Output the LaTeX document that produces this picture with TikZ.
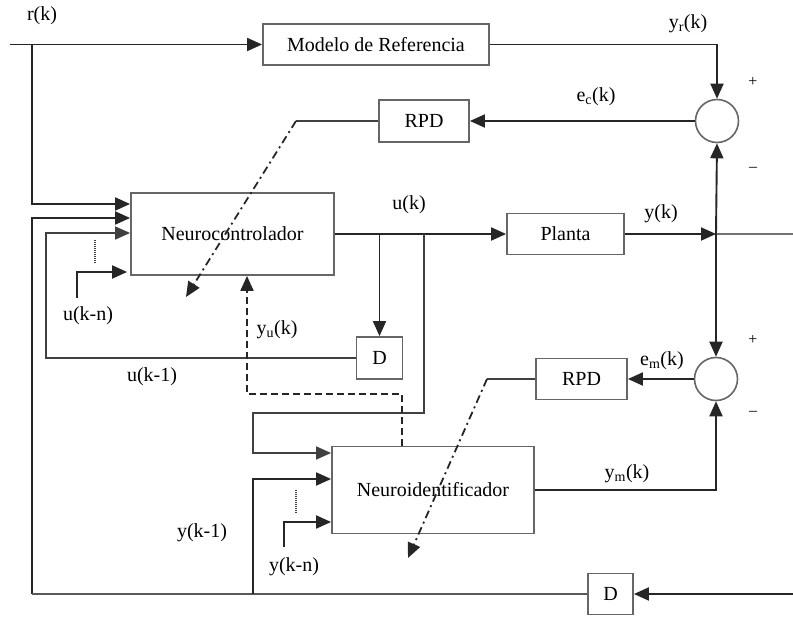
\documentclass[tikz,border=0pt]{standalone}
\usepackage{fontspec}
\setmainfont{Liberation Serif}
\usetikzlibrary{arrows.meta}
\begin{document}
\begin{tikzpicture}[x=1pt,y=-1pt,
  conn/.style={draw=black!85,line width=1.9pt},
  thin/.style={draw=black!75,line width=1.5pt},
  tip/.style={-{Triangle[length=15pt,width=13pt]}},
  box/.style={draw=black!60,line width=1.8pt,inner sep=0pt,font=\fontsize{20}{23}\selectfont},
  sumn/.style={draw=black!60,line width=1.6pt,circle,minimum size=43pt,inner sep=0pt},
  lbl/.style={inner sep=0pt,font=\fontsize{20}{23}\selectfont},
  sgn/.style={inner sep=0pt,font=\fontsize{16}{18}\selectfont},
  dashdotline/.style={draw=black!85,line width=1.8pt,dash pattern=on 8pt off 4pt on 2pt off 4pt},
  dashline/.style={draw=black!85,line width=1.8pt,dash pattern=on 7pt off 4pt},
  dotline/.style={draw=black!75,line width=1.6pt,dash pattern=on 1pt off 1pt}]
\useasboundingbox (0,0) rectangle (793,617);

% blocks
\node[box,minimum width=226pt,minimum height=41pt] (mr) at (376,44.5) {Modelo de Referencia};
\node[box,minimum width=90pt,minimum height=42pt] (rpd1) at (424,121) {RPD};
\node[box,minimum width=203pt,minimum height=82pt] (nc) at (232.5,234) {Neurocontrolador};
\node[box,minimum width=117pt,minimum height=41pt] (planta) at (565.5,234) {Planta};
\node[box,minimum width=46pt,minimum height=42pt] (d1) at (379.5,358) {D};
\node[box,minimum width=91pt,minimum height=41pt] (rpd2) at (581.5,379) {RPD};
\node[box,minimum width=202pt,minimum height=87pt] (ni) at (433,490) {Neuroidentificador};
\node[box,minimum width=45pt,minimum height=41pt] (d2) at (610.5,594) {D};
\node[sumn] (s1) at (717,121) {};
\node[sumn] (s2) at (716,379) {};

% coordinates
\coordinate (rin) at (10,44.5);
\coordinate (rj) at (32,44.5);
\coordinate (a1) at (32,204);
\coordinate (a2) at (32,218);
\coordinate (bl) at (32,594);
\coordinate (a3) at (46,233);
\coordinate (a4) at (77,298);
\coordinate (a4b) at (77,272);
\coordinate (dt1) at (95,240);
\coordinate (dt2) at (95,263);
\coordinate (b1) at (379.5,234);
\coordinate (b2) at (424,234);
\coordinate (b3) at (424,413);
\coordinate (b4) at (253,413);
\coordinate (b5) at (253,453);
\coordinate (yj) at (716,234);
\coordinate (yout) at (793,234);
\coordinate (c1) at (296,121);
\coordinate (c2) at (186,297);
\coordinate (e1) at (402,394);
\coordinate (e2) at (247,394);
\coordinate (f1) at (487,379);
\coordinate (f2) at (408,558);
\coordinate (m1) at (716,490);
\coordinate (g1) at (253,594);
\coordinate (g2) at (253,479);
\coordinate (dt3) at (296,490);
\coordinate (dt4) at (296,513);
\coordinate (h1) at (284,547);
\coordinate (h2) at (284,522);
\coordinate (din) at (793,594);

% reference path
\draw[conn,tip] (rin) -- (mr);
\draw[conn,tip] (rj) -- (a1) -- (a1 -| nc.west);
\draw[conn,tip] (mr.east) -- (mr.east -| s1) -- (s1.north);
\draw[conn,tip] (s1.west) -- (rpd1.east);
\draw[thin] (rpd1.west) -- (c1);
\draw[dashdotline,tip] (c1) -- (c2);

% controller inputs
\draw[conn,tip] (bl) -- (a2) -- (a2 -| nc.west);
\draw[thin,tip] (d1.west) -- (d1.west -| a3) -- (a3) -- (a3 -| nc.west);
\draw[dotline] (dt1) -- (dt2);
\draw[conn,tip,shorten >=3pt] (a4) -- (a4b) -- (a4b -| nc.west);

% controller output
\draw[conn,tip] (nc.east) -- (planta.west);
\draw[conn,tip] (b1) -- (d1.north);
\draw[thin,tip] (b2) -- (b3) -- (b4) -- (b5) -- (b5 -| ni.west);
\draw[conn,tip] (planta.east) -- (yj);
\draw[draw=black!55,line width=1.4pt] (yj) -- (yout);
\draw[conn,tip] (yj) -- (s1.south);
\draw[conn,tip] (yj) -- (s2.north);

% identifier loop
\draw[conn,tip] (s2.west) -- (rpd2.east);
\draw[thin] (rpd2.west) -- (f1);
\draw[dashdotline,tip] (f1) -- (f2);
\draw[dashline,tip] (e1 |- ni.north) -- (e1) -- (e2) -- (e2 |- nc.south);
\draw[conn,tip] (ni.east) -- (m1) -- (s2.south);

% identifier inputs
\draw[conn,tip] (din) -- (d2.east);
\draw[draw=black!65,line width=1.7pt] (d2.west) -- (bl);
\draw[conn,tip] (g1) -- (g2) -- (g2 -| ni.west);
\draw[dotline] (dt3) -- (dt4);
\draw[conn,tip] (h1) -- (h2) -- (h2 -| ni.west);

% labels
\node[lbl] (lr) at (42,16) {r(k)};
\node[lbl] (lyr) at (688,24) {y\textsubscript{r}(k)};
\node[sgn] (p1) at (753,82) {+};
\node[sgn] (n1) at (753,169) {--};
\node[lbl] (lec) at (596,97) {e\textsubscript{c}(k)};
\node[lbl] (luk) at (409,205) {u(k)};
\node[lbl] (lyk) at (661,214) {y(k)};
\node[lbl] (lukn) at (88,316) {u(k-n)};
\node[lbl] (lyu) at (277,330) {y\textsubscript{u}(k)};
\node[lbl] (luk1) at (152,377) {u(k-1)};
\node[lbl] (lem) at (662,361) {e\textsubscript{m}(k)};
\node[sgn] (p2) at (753,340) {+};
\node[sgn] (n2) at (753,413) {--};
\node[lbl] (lym) at (627,474) {y\textsubscript{m}(k)};
\node[lbl] (lyk1) at (202,533) {y(k-1)};
\node[lbl] (lykn) at (294,567) {y(k-n)};
\end{tikzpicture}
\end{document}
